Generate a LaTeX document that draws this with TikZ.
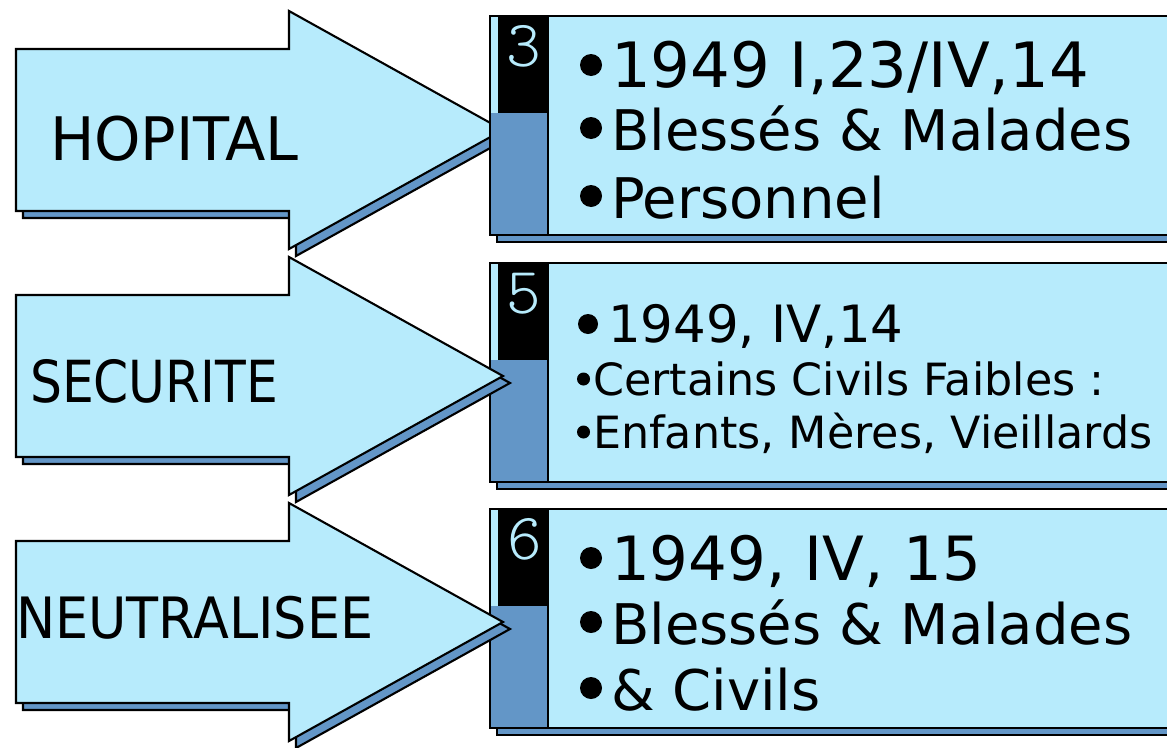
\documentclass[tikz,border=0pt]{standalone}
\usepackage{fontspec}
\setmainfont{DejaVu Sans}
\newfontfamily\numfont{lmmonolt10-regular.otf}
\definecolor{lb}{RGB}{183,235,252}
\definecolor{sb}{RGB}{99,150,199}
\newcommand\fs[1]{\fontsize{#1}{#1}\selectfont}
\tikzset{
  lbl/.style={font=\fs{60}, inner sep=0pt, anchor=base west},
  txt/.style={inner sep=0pt, anchor=base west},
  num/.style={font=\numfont\fs{66}, text=lb, inner sep=0pt, anchor=base},
  bigdot/.style={fill=black},
  bigarrow/.pic={
    \path[draw=black, fill=sb] (23,-74) -- (296,-74) -- (296,-112) -- (510,7) -- (296,126) -- (296,88) -- (23,88) -- cycle;
    \path[draw=black, fill=lb] (16,-81) -- (289,-81) -- (289,-119) -- (503,0) -- (289,119) -- (289,81) -- (16,81) -- cycle;
  },
  infobox/.pic={
    \path[draw=black, fill=sb] (497,7) rectangle (1200,226);
    \path[fill=lb] (490,0) rectangle (1200,219);
    \path[fill=black] (498,0) rectangle (548,97);
    \path[fill=sb] (490,97) rectangle (548,219);
    \draw (548,0) -- (548,219);
    \draw (490,0) rectangle (1200,219);
  }
}
\begin{document}
\begin{tikzpicture}[x=1pt, y=-1pt, line width=2.1pt, line join=miter]
\clip (0,0) rectangle (1167,747);
\fill[white] (0,0) rectangle (1167,747);
% row 1
\pic at (0,130) {bigarrow};
\pic at (0,16) {infobox};
% row 2
\pic at (0,263) {infobox};
\pic at (0,376) {bigarrow};
% row 3
\pic at (0,509) {infobox};
\pic at (0,622) {bigarrow};

\node[lbl] (hop) at (49,160) {\scalebox{0.984}[1]{HOPITAL}};
\node[lbl] (sec) at (29,402) {\fs{58}\scalebox{0.868}[1]{SECURITE}};
\node[lbl] (neu) at (15,638) {\fs{57}\scalebox{0.92}[1]{NEUTRALISEE}};

\node[num] (n3) at (524,66) {3};
\node[num] (n5) at (524,313) {5};
\node[num] (n6) at (525,559) {6};

\node[txt, font=\fs{62.5}] (b1a) at (610,87) {1949 I,23/IV,14};
\node[txt, font=\fs{56}] (b1b) at (610,150) {Blessés \& Malades};
\node[txt, font=\fs{56}] (b1c) at (610,218) {Personnel};

\node[txt, font=\fs{51.4}] (b2a) at (607,342) {1949, IV,14};
\node[txt, font=\fs{44.4}] (b2b) at (592,395) {Certains Civils Faibles :};
\node[txt, font=\fs{44.4}] (b2c) at (592,448) {Enfants, Mères, Vieillards};

\node[txt, font=\fs{61}] (b3a) at (610,580) {1949, IV, 15};
\node[txt, font=\fs{56}] (b3b) at (610,644) {Blessés \& Malades};
\node[txt, font=\fs{56}] (b3c) at (610,710) {\& Civils};

% bullets
\foreach \n in {b1a,b1b,b1c,b3a,b3b,b3c}
  \fill[bigdot] (\n.base west) ++(-19,-22) circle (11);
\fill[bigdot] (b2a.base west) ++(-19,-18) circle (10);
\foreach \n in {b2b,b2c}
  \fill[bigdot] (\n.base west) ++(-8.5,-16) circle (6.5);
\end{tikzpicture}
\end{document}
